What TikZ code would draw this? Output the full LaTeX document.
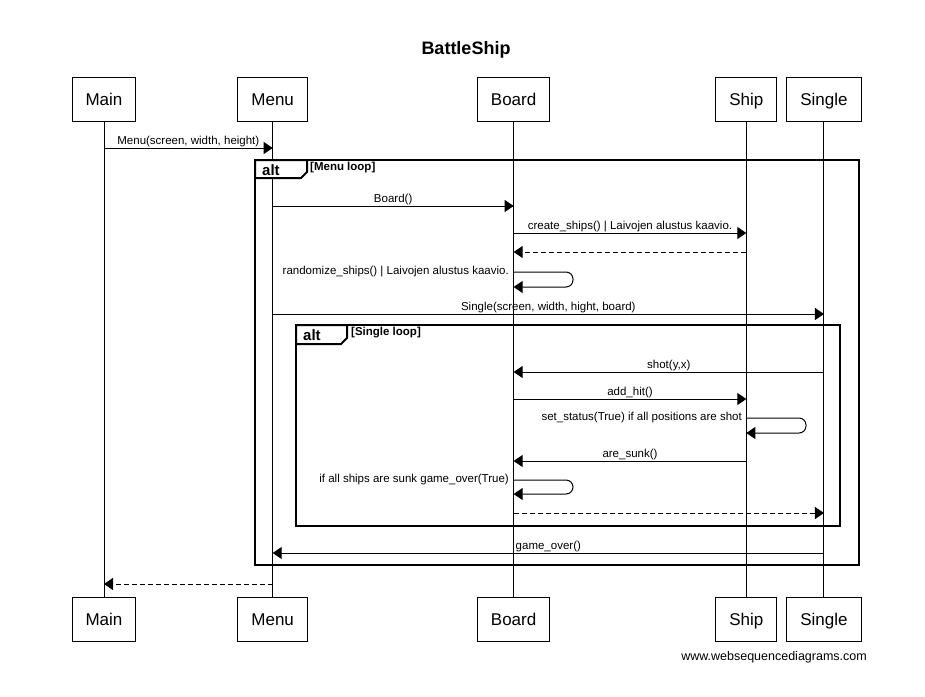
\documentclass[tikz,border=0pt]{standalone}
\usepackage{fontspec}
\setmainfont{Liberation Sans}
\usetikzlibrary{arrows.meta,positioning}

\begin{document}
\begin{tikzpicture}[x=1pt,y=-1pt,
  actor/.style={draw,line width=1pt,minimum height=44pt,inner xsep=13.5pt,text height=16pt,text depth=3.5pt,font=\fontsize{17}{20}\selectfont},
  msg/.style={line width=1pt,-{Triangle[length=9pt,width=12pt]}},
  ret/.style={msg,dash pattern=on 5pt off 3pt},
  lbl/.style={above,inner sep=0.5pt,font=\fontsize{11.5}{13}\selectfont},
  selflbl/.style={anchor=east,inner sep=0pt,font=\fontsize{11.5}{13}\selectfont},
  frame/.style={line width=2pt},
  tab/.style={anchor=west,inner sep=0pt,font=\bfseries\fontsize{15}{17}\selectfont},
  guard/.style={anchor=north west,inner sep=0pt,font=\bfseries\fontsize{11.5}{13}\selectfont}]
\useasboundingbox (0,0) rectangle (925,696);
\node[font=\bfseries\fontsize{18}{20}\selectfont] (title) at (466,50) {BattleShip};
% participants
\node[actor] (main)                      at (104,99) {Main};
\node[actor] (menu)   [right=101pt of main]  {Menu};
\node[actor] (board)  [right=169pt of menu]  {Board};
\node[actor] (ship)   [right=165pt of board] {Ship};
\node[actor] (single) [right=9pt of ship]    {Single};
\foreach \p/\t in {main/Main,menu/Menu,board/Board,ship/Ship,single/Single}
  \node[actor] (\p-b) [below=475pt of \p] {\t};
% lifelines
\foreach \p in {main,menu,board,ship,single}
  \draw[line width=1pt] (\p) -- (\p-b);
% frames
\draw[frame] (255,160) rectangle (859,565);
\draw[frame,fill=white] (255,160) -- (255,178) -- (301,178) -- (307,172) -- (307,160) -- cycle;
\node[tab] (alt1) at (262,170) {alt};
\node[guard] (g1) at (310,162) {[Menu loop]};
\draw[frame] (296,325) rectangle (840,526);
\draw[frame,fill=white] (296,325) -- (296,344) -- (341,344) -- (347,338) -- (347,325) -- cycle;
\node[tab] (alt2) at (303,335) {alt};
\node[guard] (g2) at (351,327) {[Single loop]};
% messages
\path[msg]
  (main |- 0,148)   edge node[lbl] {Menu(screen, width, height)} (menu |- 0,148)
  (menu |- 0,206)   edge node[lbl] {Board()} (board |- 0,206)
  (board |- 0,233)  edge node[lbl] {create\_ships() | Laivojen alustus kaavio.} (ship |- 0,233)
  (menu |- 0,314)   edge node[lbl] {Single(screen, width, hight, board)} (single |- 0,314)
  (single |- 0,372) edge node[lbl] {shot(y,x)} (board |- 0,372)
  (board |- 0,399)  edge node[lbl] {add\_hit()} (ship |- 0,399)
  (ship |- 0,461)   edge node[lbl] {are\_sunk()} (board |- 0,461)
  (single |- 0,553) edge node[lbl] {game\_over()} (menu |- 0,553);
\path[ret]
  (ship |- 0,252)   edge (board |- 0,252)
  (board |- 0,513)  edge (single |- 0,513)
  (menu |- 0,584)   edge (main |- 0,584);
% self calls
\draw[msg,rounded corners=7pt] (board |- 0,272) -- (573,272) -- (573,287) -- (board |- 0,287);
\node[selflbl] (l1) at (509,272) {randomize\_ships() | Laivojen alustus kaavio.};
\draw[msg,rounded corners=7pt] (ship |- 0,418) -- (806,418) -- (806,433) -- (ship |- 0,433);
\node[selflbl] (l2) at (742,418) {set\_status(True) if all positions are shot};
\draw[msg,rounded corners=7pt] (board |- 0,480) -- (573,480) -- (573,494) -- (board |- 0,494);
\node[selflbl] (l3) at (509,480) {if all ships are sunk game\_over(True)};
\node[anchor=east,inner sep=0pt,font=\fontsize{12.5}{14}\selectfont] (wsd) at (867,657) {www.websequencediagrams.com};
\end{tikzpicture}
\end{document}
